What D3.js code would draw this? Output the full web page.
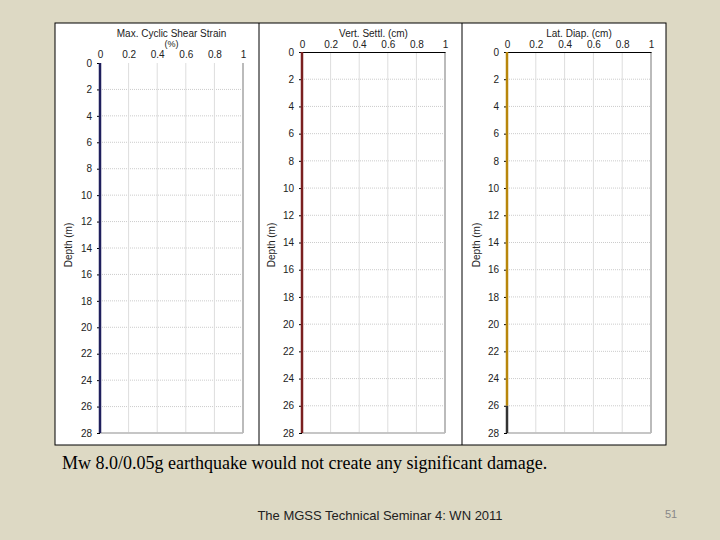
<!DOCTYPE html><html><head><meta charset="utf-8"><script src="https://cdn.jsdelivr.net/npm/d3@7"></script>
<style>body{margin:0;background:#ddd9c4}svg{display:block}</style></head><body><svg id="c" width="720" height="540"></svg><script>
const depthTicks=[0,2,4,6,8,10,12,14,16,18,20,22,24,26,28];
const xTicks=[0,0.2,0.4,0.6,0.8,1];
const depths=[0,28];
const shearStrain=[0,0];
const vertSettl=[0,0];
const latDispUpper=[0,0];
const latDispDepths=[0,26];
const latDispLower=[0,0];
const lowerDepths=[26,28];
const titles=["Max. Cyclic Shear Strain","Vert. Settl. (cm)","Lat. Diap. (cm)"];
const svg=d3.select("#c");
svg.append("rect").attr("x",55).attr("y",23).attr("width",611).attr("height",422).attr("fill","#fff").attr("stroke","#000");
[259,462].forEach(x=>svg.append("line").attr("x1",x).attr("x2",x).attr("y1",23).attr("y2",445).attr("stroke","#000"));
const panels=[
 {x0:100,x1:243,y0:63,title:titles[0],sub:"(%)",ylab:"Depth (m)",ylx:72,series:[{d:depths,v:shearStrain,c:"#1f1f5c"}]},
 {x0:302,x1:445,y0:52,title:titles[1],ylab:"Depth (m)",ylx:275,series:[{d:depths,v:vertSettl,c:"#7a2020"}]},
 {x0:507,x1:651,y0:52,title:titles[2],ylab:"Depth (m)",ylx:480,series:[{d:latDispDepths,v:latDispUpper,c:"#b8860b"},{d:lowerDepths,v:latDispLower,c:"#333"}]}
];
panels.forEach(p=>{
 const x=d3.scaleLinear().domain([0,1]).range([p.x0,p.x1]);
 const y=d3.scaleLinear().domain([0,28]).range([p.y0,433]);
 const g=svg.append("g");
 depthTicks.slice(1).forEach(t=>g.append("line").attr("x1",x(0)).attr("x2",x(1)).attr("y1",y(t)).attr("y2",y(t)).attr("stroke","#ccc").attr("stroke-dasharray",t==28?null:"1,1"));
 xTicks.slice(1,-1).forEach(t=>g.append("line").attr("x1",x(t)).attr("x2",x(t)).attr("y1",y(0)).attr("y2",y(28)).attr("stroke","#ddd"));
 g.append("line").attr("x1",x(1)).attr("x2",x(1)).attr("y1",y(0)).attr("y2",y(28)).attr("stroke","#bbb").attr("stroke-width",2);
 g.append("line").attr("x1",x(0)).attr("x2",x(1)).attr("y1",y(28)).attr("y2",y(28)).attr("stroke","#bbb").attr("stroke-width",1.5);
 const ax=g.append("g").attr("transform",`translate(0,${y(0)})`).call(d3.axisTop(x).tickValues(xTicks).tickFormat(d3.format("")).tickSize(0).tickPadding(p.sub?5:4));
 ax.select(".domain").attr("stroke",p.sub?"none":"#000");
 ax.selectAll("text").attr("font-family","Arial").attr("font-size",10).attr("fill","#222");
 const ay=g.append("g").attr("transform",`translate(${x(0)},0)`).call(d3.axisLeft(y).tickValues(depthTicks).tickSize(3).tickPadding(5));
 ay.select(".domain").remove();
 ay.selectAll("text").attr("font-family","Arial").attr("font-size",10).attr("fill","#222");
 g.append("text").attr("x",(p.x0+p.x1)/2).attr("y",37).attr("text-anchor","middle").attr("font-family","Arial").attr("font-size",10).attr("fill","#222").text(p.title);
 if(p.sub)g.append("text").attr("x",(p.x0+p.x1)/2).attr("y",47).attr("text-anchor","middle").attr("font-family","Arial").attr("font-size",9).attr("fill","#222").text(p.sub);
 g.append("text").attr("transform",`translate(${p.ylx},245) rotate(-90)`).attr("text-anchor","middle").attr("font-family","Arial").attr("font-size",10).attr("fill","#222").text(p.ylab);
 p.series.forEach(s=>g.append("path").datum(s.d.map((d,i)=>[s.v[i],d])).attr("d",d3.line().x(d=>x(d[0])).y(d=>y(d[1]))).attr("stroke",s.c).attr("stroke-width",2.5).attr("fill","none"));
});
svg.append("text").attr("x",62).attr("y",469).attr("font-family","Liberation Serif").attr("font-size",18).text("Mw 8.0/0.05g earthquake would not create any significant damage.");
svg.append("text").attr("x",380).attr("y",520).attr("text-anchor","middle").attr("font-family","Arial").attr("font-size",13).attr("fill","#222").text("The MGSS Technical Seminar 4: WN 2011");
svg.append("text").attr("x",671).attr("y",518).attr("text-anchor","middle").attr("font-family","Arial").attr("font-size",11).attr("fill","#888").text("51");
</script></body></html>
